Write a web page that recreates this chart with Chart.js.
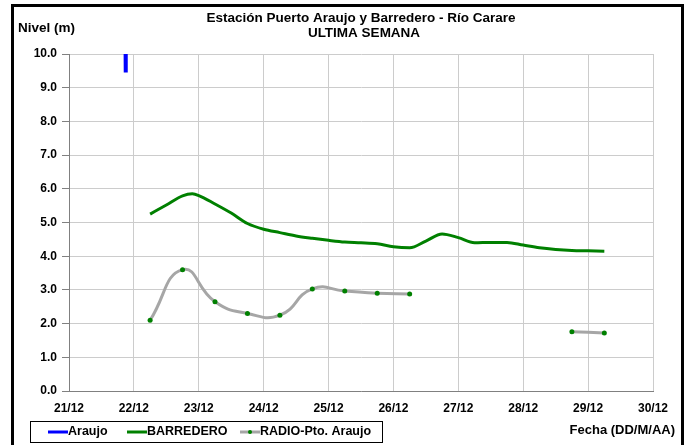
<!DOCTYPE html>
<html>
<head>
<meta charset="utf-8">
<script src="https://cdn.jsdelivr.net/npm/chart.js@4"></script>
<style>
  body { margin: 0; background: #fff; }
  #wrap { position: relative; width: 686px; height: 445px; overflow: hidden; }
  #frame { position: absolute; left: 11px; top: 4px; width: 667px; height: 460px; border: 3px solid #000; border-bottom: none; pointer-events: none; }
</style>
</head>
<body>
<div id="wrap">
  <canvas id="nivelChart" width="686" height="445"></canvas>
  <div id="frame"></div>
</div>
<script>
// dias desde 21/12 00:00
const fechaLabels = ["21/12", "22/12", "23/12", "24/12", "25/12", "26/12", "27/12", "28/12", "29/12", "30/12"];

const araujoDias = [0.872, 0.873, 0.876];
const araujoNivel = [10.1, 9.75, 9.45];

const barrederoDias = [1.25, 1.5, 1.75, 1.9, 2.0, 2.25, 2.5, 2.75, 3.0, 3.25, 3.5, 3.75, 4.0, 4.25, 4.5, 4.75, 5.0, 5.25, 5.5, 5.75, 6.0, 6.25, 6.5, 6.75, 7.0, 7.25, 7.5, 7.75, 8.0, 8.25];
const barrederoNivel = [5.25, 5.52, 5.79, 5.85, 5.8, 5.55, 5.28, 4.97, 4.8, 4.7, 4.6, 4.53, 4.47, 4.42, 4.4, 4.37, 4.28, 4.25, 4.45, 4.66, 4.55, 4.4, 4.41, 4.41, 4.33, 4.25, 4.2, 4.17, 4.16, 4.15];

const radioDias = [1.25, 1.75, 2.25, 2.75, 3.25, 3.75, 4.25, 4.75, 5.25, 5.75, 6.25, 6.75, 7.25, 7.75, 8.25];
const radioNivel = [2.1, 3.6, 2.65, 2.3, 2.25, 3.03, 2.97, 2.9, 2.88, null, null, null, null, 1.76, 1.72];

const color = { Blue: "#0000ff", Green: "#008000", Gray: "#a6a6a6" };
const fontName = '"Liberation Sans", Arial, sans-serif';

function toPoints(xs, ys) {
  return xs.map((x, i) => ({ x: x, y: ys[i] }));
}

// titulos, leyenda y etiqueta del eje x
const decorPlugin = {
  id: "decor",
  afterDraw(chart) {
    const ctx = chart.ctx;
    ctx.save();
    ctx.fillStyle = "#000";
    ctx.textBaseline = "middle";
    ctx.font = "bold 13.5px " + fontName;
    ctx.textAlign = "center";
    ctx.fillText("Estación Puerto Araujo y Barredero - Río Carare", 361, 18);
    ctx.fillText("ULTIMA SEMANA", 364, 33);
    ctx.textAlign = "left";
    ctx.fillText("Nivel (m)", 18, 28);
    ctx.font = "bold 13px " + fontName;
    ctx.textAlign = "right";
    ctx.fillText("Fecha (DD/M/AA)", 675, 430);

    // leyenda
    ctx.strokeStyle = "#000";
    ctx.lineWidth = 1;
    ctx.strokeRect(30.5, 421.5, 352, 21);
    const items = [
      { ds: chart.data.datasets[0], x: 48 },
      { ds: chart.data.datasets[1], x: 127 },
      { ds: chart.data.datasets[2], x: 240 },
    ];
    ctx.font = "bold 12.5px " + fontName;
    ctx.textAlign = "left";
    items.forEach(it => {
      ctx.strokeStyle = it.ds.borderColor;
      ctx.lineWidth = 3;
      ctx.beginPath();
      ctx.moveTo(it.x, 432);
      ctx.lineTo(it.x + 20, 432);
      ctx.stroke();
      if (it.ds.pointRadius > 0) {
        ctx.fillStyle = it.ds.pointBackgroundColor;
        ctx.beginPath();
        ctx.arc(it.x + 10, 432, 2, 0, Math.PI * 2);
        ctx.fill();
      }
      ctx.fillStyle = "#000";
      ctx.fillText(it.ds.label, it.x + 20, 432);
    });
    ctx.restore();
  }
};

new Chart(document.getElementById("nivelChart"), {
  type: "line",
  data: {
    datasets: [
      {
        label: "Araujo",
        data: toPoints(araujoDias, araujoNivel),
        borderColor: color.Blue,
        backgroundColor: color.Blue,
        borderWidth: 4,
        pointRadius: 0,
      },
      {
        label: "BARREDERO",
        data: toPoints(barrederoDias, barrederoNivel),
        borderColor: color.Green,
        backgroundColor: color.Green,
        borderWidth: 3,
        pointRadius: 0,
        cubicInterpolationMode: "monotone",
      },
      {
        label: "RADIO-Pto. Araujo",
        data: toPoints(radioDias, radioNivel),
        borderColor: color.Gray,
        backgroundColor: color.Green,
        pointBackgroundColor: color.Green,
        pointBorderWidth: 0,
        borderWidth: 3,
        pointRadius: 2.5,
        tension: 0.5,
        spanGaps: false,
      },
    ],
  },
  options: {
    responsive: false,
    animation: false,
    events: [],
    layout: { padding: { left: 0, top: 54, right: 33, bottom: 30 } },
    plugins: {
      legend: { display: false },
      title: { display: false },
      tooltip: { enabled: false },
    },
    scales: {
      x: {
        type: "linear",
        min: 0,
        max: 9,
        afterFit: function(scale) { scale.height = 24; },
        afterBuildTicks: function(scale) {
          scale.ticks = fechaLabels.map((l, i) => ({ value: i }));
        },
        ticks: {
          padding: 10,
          color: "#000",
          font: { family: fontName, size: 12, weight: "bold" },
          maxRotation: 0,
          autoSkip: false,
          callback: function(value) { return fechaLabels[value]; },
        },
        grid: { color: "#cccccc", drawTicks: false },
        border: { color: "#808080" },
      },
      y: {
        min: 0,
        max: 10,
        afterFit: function(scale) { scale.width = 69; },
        ticks: {
          stepSize: 1,
          padding: 5,
          color: "#000",
          font: { family: fontName, size: 12, weight: "bold" },
          callback: function(value) { return value.toFixed(1); },
        },
        grid: { color: "#cccccc", tickLength: 7, tickColor: "#808080" },
        border: { color: "#808080" },
      },
    },
  },
  plugins: [decorPlugin],
});
</script>
</body>
</html>
